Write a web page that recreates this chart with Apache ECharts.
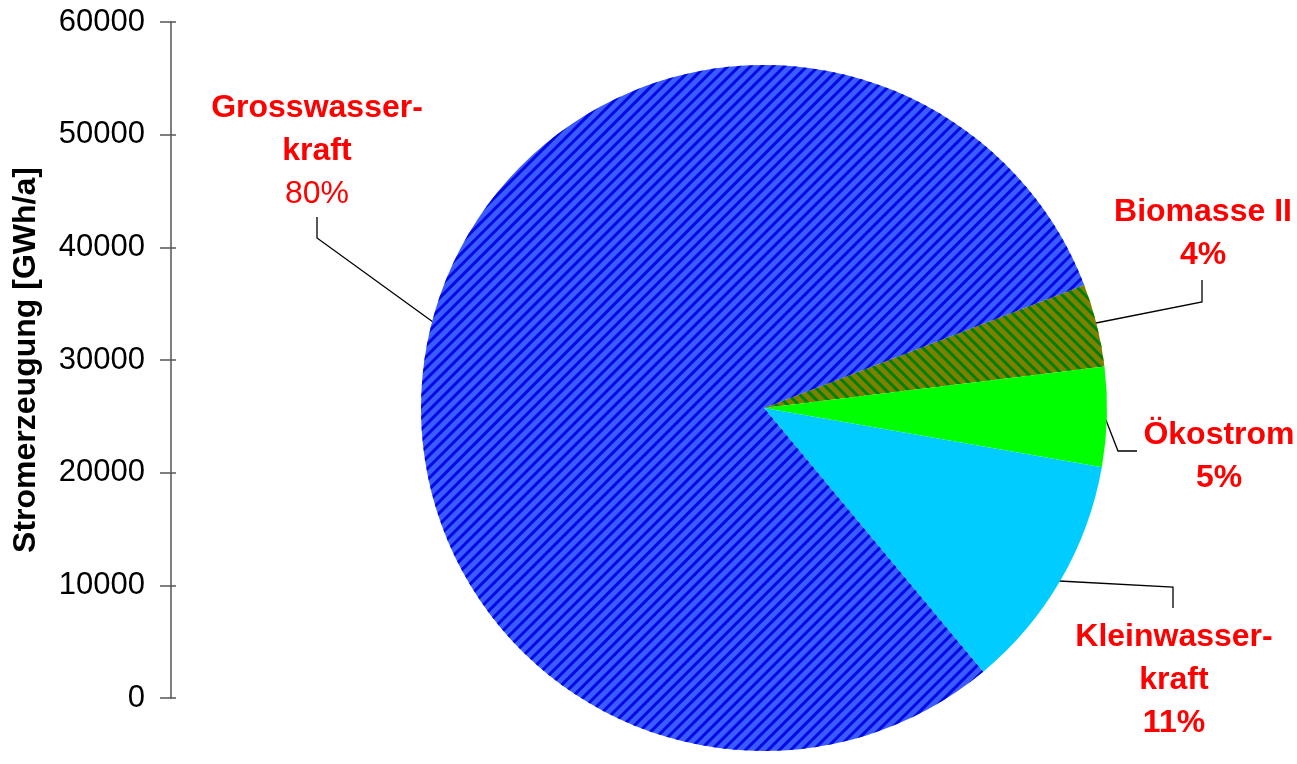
<!DOCTYPE html>
<html>
<head>
<meta charset="utf-8">
<script src="https://cdn.jsdelivr.net/npm/echarts@6/dist/echarts.min.js"></script>
<style>
html, body { margin: 0; padding: 0; background: #fff; }
#chart { width: 1297px; height: 764px; }
</style>
</head>
<body>
<div id="chart"></div>
<script>
// data
var names = ['Biomasse II', 'Ökostrom', 'Kleinwasser-\nkraft', 'Grosswasser-\nkraft'];
var shares = [3.9, 4.7, 11.2, 80.2];
var yTicks = [0, 60000, 10000]; // min, max, step

// layout of labels (center x, top y, leader points)
var labelSpots = [
    { x: 1203, y: 191, line: [[1096, 323], [1202, 302], [1202, 280]] },
    { x: 1219, y: 414, line: [[1104, 415], [1118, 451], [1137, 451]] },
    { x: 1174, y: 616, line: [[1059, 581], [1173, 587], [1173, 608]] },
    { x: 317, y: 87, line: [[433, 322], [317, 238], [317, 217]] }
];

var fills = [
    { color: '#808000', decal: { color: '#008000', dashArrayX: [1, 0], dashArrayY: [3, 5], rotation: Math.PI / 4, symbol: 'rect', symbolSize: 1 } },
    { color: '#00ff00' },
    { color: '#00ccff' },
    { color: '#3a5cff', decal: { color: '#0008e6', dashArrayX: [1, 0], dashArrayY: [3, 5], rotation: -Math.PI / 4, symbol: 'rect', symbolSize: 1 } }
];

var pieData = names.map(function (n, i) {
    var item = { name: n, value: shares[i], itemStyle: { color: fills[i].color } };
    if (fills[i].decal) item.itemStyle.decal = fills[i].decal;
    return item;
});

var myChart = echarts.init(document.getElementById('chart'), null, { renderer: 'canvas' });
var option = {
    animation: false,
    aria: { enabled: true, decal: { show: false } },
    grid: { left: 171, top: 22, bottom: 66, right: 100, containLabel: false, outerBoundsMode: 'none' },
    xAxis: { type: 'value', show: false, min: 0, max: 1 },
    yAxis: [{
        type: 'value',
        min: yTicks[0],
        max: yTicks[1],
        interval: yTicks[2],
        position: 'left',
        name: 'Stromerzeugung [GWh/a]',
        nameLocation: 'middle',
        nameGap: 129,
        nameTextStyle: { fontFamily: 'Liberation Sans', fontSize: 32, fontWeight: 'bold', color: '#000' },
        axisLine: { show: true, lineStyle: { color: '#555', width: 1.5 } },
        axisTick: { show: true, length: 11, lineStyle: { color: '#555', width: 1.5 } },
        axisLabel: { margin: 26, fontFamily: 'Liberation Sans', fontSize: 31, color: '#000', formatter: function (v) { return String(v); } },
        splitLine: { show: false }
    }, {
        type: 'value',
        min: yTicks[0],
        max: yTicks[1],
        interval: yTicks[2],
        position: 'left',
        offset: 0,
        axisLine: { show: false },
        axisTick: { show: true, inside: true, length: 5, lineStyle: { color: '#555', width: 1.5 } },
        axisLabel: { show: false },
        splitLine: { show: false }
    }],
    series: [{
        type: 'pie',
        center: [764, 408],
        radius: 343,
        startAngle: 21,
        clockwise: true,
        silent: true,
        data: pieData,
        label: {
            show: true,
            overflow: 'none',
            formatter: function (p) {
                var lines = p.name.split('\n').map(function (s) { return '{n|' + s + '}'; });
                var pct = Math.round(p.percent) + '%';
                lines.push(p.dataIndex === 3 ? '{p|' + pct + '}' : '{n|' + pct + '}');
                return lines.join('\n');
            },
            rich: {
                n: { fontFamily: 'Liberation Sans', fontSize: 32, fontWeight: 'bold', color: '#ff0000', lineHeight: 43, align: 'center' },
                p: { fontFamily: 'Liberation Sans', fontSize: 32, color: '#ff0000', lineHeight: 43, align: 'center' }
            }
        },
        labelLine: { show: true, lineStyle: { color: '#000', width: 1.3 } },
        labelLayout: function (params) {
            var s = labelSpots[params.dataIndex];
            return { x: s.x, y: s.y, align: 'center', verticalAlign: 'top', labelLinePoints: s.line };
        }
    }]
};
myChart.setOption(option);
</script>
</body>
</html>
